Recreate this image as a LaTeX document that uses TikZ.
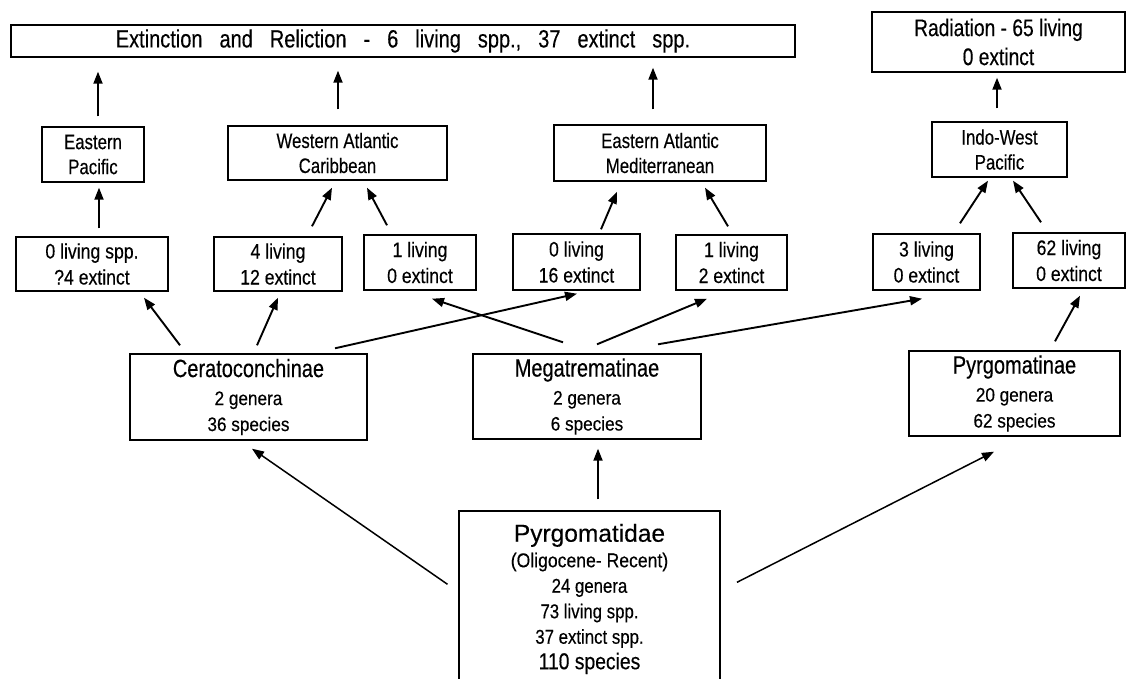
\documentclass[tikz,border=0pt]{standalone}
\usepackage{fontspec}
\setmainfont{Liberation Sans}
\newfontfamily\nar[FakeStretch=0.80,FakeBold=0.3]{Liberation Sans}
\newfontfamily\nbr[FakeStretch=0.84,FakeBold=0.3]{Liberation Sans}
\newfontfamily\nsub[FakeStretch=0.88,FakeBold=0.3]{Liberation Sans}
\newfontfamily\nwide[FakeStretch=1.0,FakeBold=0.3]{Liberation Sans}
\usetikzlibrary{arrows.meta,calc}
\newcommand\fsz[2]{\fontsize{#1}{#2}\selectfont}
\tikzset{
  box/.style={draw, line width=1.4pt, inner sep=0pt, align=center},
  region/.style={box, font=\nar\fsz{21}{25}},
  count/.style={box, font=\nbr\fsz{21}{26}},
  subfam/.style={box, font=\nsub\fsz{19.5}{26}},
  arr/.style={line width=1.9pt, -{Triangle[length=12pt,width=9pt]}},
  arrl/.style={line width=1.5pt, -{Triangle[length=12pt,width=9pt]}},
}
\begin{document}
\begin{tikzpicture}[x=1pt,y=-1pt]
\fill[white] (0,0) rectangle (1127,679);
\useasboundingbox (0,0) rectangle (1127,679);

% top outcome boxes
\node[box, minimum width=784pt, minimum height=32pt, font=\nar\fsz{25}{30}] (top) at (403,41)
  {\spaceskip=17pt Extinction and Reliction - 6 living spp., 37 extinct spp.};
\node[box, minimum width=253pt, minimum height=60pt, font=\nar\fsz{24}{29}] (rad) at (998.5,42)
  {Radiation - 65 living\\0 extinct};

% regions
\node[region, minimum width=102pt, minimum height=55pt] (ep) at (93,154.5) {Eastern\\Pacific};
\node[region, minimum width=219pt, minimum height=54pt] (wa) at (337.5,153) {Western Atlantic\\Caribbean};
\node[region, minimum width=212pt, minimum height=56pt] (eam) at (660,153) {Eastern Atlantic\\Mediterranean};
\node[region, minimum width=135pt, minimum height=55pt] (iwp) at (999.5,149.5) {Indo-West\\Pacific};

% counts
\node[count, minimum width=152pt, minimum height=54pt] (s1) at (92,264) {0 living spp.\\?4 extinct};
\node[count, minimum width=128pt, minimum height=54pt] (s2) at (278,264) {4 living\\12 extinct};
\node[count, minimum width=112pt, minimum height=55pt] (s3) at (420,262.5) {1 living\\0 extinct};
\node[count, minimum width=127pt, minimum height=56pt] (s4) at (576.5,262) {0 living\\16 extinct};
\node[count, minimum width=111pt, minimum height=55pt] (s5) at (731.5,262.5) {1 living\\2 extinct};
\node[count, minimum width=107pt, minimum height=56pt] (s6) at (926.5,262) {3 living\\0 extinct};
\node[count, minimum width=112pt, minimum height=55pt] (s7) at (1069,260.5) {62 living\\0 extinct};

% subfamilies
\node[subfam, minimum width=237pt, minimum height=86pt] (cer) at (248.5,397)
  {{\nar\fsz{25}{28}Ceratoconchinae}\\[2pt]2 genera\\36 species};
\node[subfam, minimum width=228pt, minimum height=85pt] (mega) at (587,396.5)
  {{\nar\fsz{25}{28}Megatrematinae}\\[2pt]2 genera\\6 species};
\node[subfam, minimum width=211pt, minimum height=85pt] (pyn) at (1014.5,393.5)
  {{\nar\fsz{25}{28}Pyrgomatinae}\\[2pt]20 genera\\62 species};

% family
\node[box, minimum width=261pt, minimum height=176pt, font=\nbr\fsz{20}{25.5}] (pyd) at (589.5,599)
  {{\nwide\fsz{24.5}{30}Pyrgomatidae}\\{\nsub(Oligocene- Recent)}\\24 genera\\73 living spp.\\37 extinct spp.\\{\fsz{23}{26}110 species}};

% arrows to outcomes
\draw[arr] ($(ep.north)+(5,-10)$) -- ($(top.south)+(-305,14)$);
\draw[arr] ($(wa.north)+(0.5,-16)$) -- ($(top.south)+(-65,13)$);
\draw[arr] ($(eam.north)+(-7,-15)$) -- ($(top.south)+(250,10)$);
\draw[arr] ($(iwp.north)+(-2.5,-13)$) -- ($(rad.south)+(-1.5,5)$);

% arrows to regions
\draw[arr] ($(s1.north)+(7,-8)$) -- ($(ep.south)+(6,5)$);
\draw[arr] ($(s2.north)+(34,-10)$) -- ($(wa.south)+(-5.5,7)$);
\draw[arr] ($(s3.north)+(-33,-9)$) -- ($(wa.south)+(29.5,7)$);
\draw[arr] ($(s4.north)+(24.5,-4)$) -- ($(eam.south)+(-43,10)$);
\draw[arr] ($(s5.north)+(-3.5,-8)$) -- ($(eam.south)+(45,6)$);
\draw[arr] ($(s6.north)+(33.5,-10)$) -- ($(iwp.south)+(-11.5,3)$);
\draw[arr] ($(s7.north)+(-28,-10)$) -- ($(iwp.south)+(13.5,3)$);

% arrows from subfamilies to counts
\draw[arr] ($(cer.north)+(-68.5,-8)$) -- ($(s1.south)+(52,6)$);
\draw[arr] ($(cer.north)+(8.5,-8)$) -- ($(s2.south)+(0,6)$);
\draw[arr] ($(cer.north)+(86.5,-5)$) -- ($(s4.south)+(0.5,3)$);
\draw[arr] ($(mega.north)+(-24,-11)$) -- ($(s3.south)+(12,8)$);
\draw[arr] ($(mega.north)+(10,-9)$) -- ($(s5.south)+(-24.5,8)$);
\draw[arr] ($(mega.north)+(71,-9)$) -- ($(s6.south)+(-4.5,8)$);
\draw[arr] ($(pyn.north)+(40.5,-9)$) -- ($(s7.south)+(11,7)$);

% arrows from family
\draw[arrl] ($(pyd.north)+(-142,74)$) -- ($(cer.south)+(3.5,8)$);
\draw[arr] ($(pyd.north)+(8.5,-11)$) -- ($(mega.south)+(11,9)$);
\draw[arrl] ($(pyd.north)+(147.5,72)$) -- ($(pyn.south)+(-20.5,15)$);
\end{tikzpicture}
\end{document}
